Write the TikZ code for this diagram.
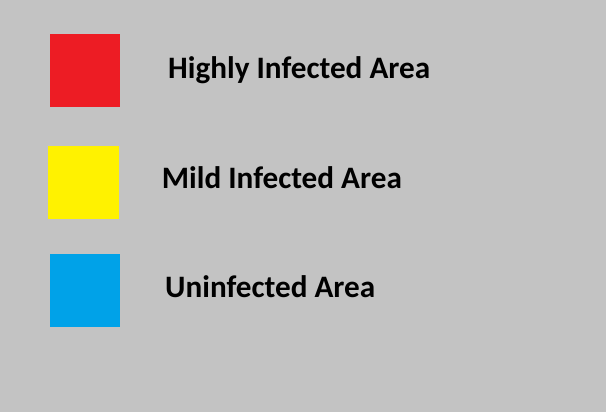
\documentclass[tikz,border=0pt]{standalone}
\usepackage{fontspec}
\setmainfont{Carlito}
\definecolor{bggray}{HTML}{C3C3C3}
\definecolor{hired}{HTML}{ED1C24}
\definecolor{mildyellow}{HTML}{FFF200}
\definecolor{unblue}{HTML}{00A2E8}
\begin{document}
\begin{tikzpicture}[x=1pt,y=-1pt,
  lbl/.style={anchor=base west,inner sep=0pt,font=\fontsize{31.2}{36}\selectfont\bfseries,text=black}]
\fill[bggray] (0,0) rectangle (606,412);
\useasboundingbox (0,0) rectangle (606,412);
\fill[hired] (50,34.5) rectangle (120,107);
\fill[mildyellow] (48,146) rectangle (119,219);
\fill[unblue] (50,254) rectangle (120,326.5);
\node[lbl] (t1) at (168,78.3) {Highly Infected Area};
\node[lbl] (t2) at (161.7,189) {Mild Infected Area};
\node[lbl] (t3) at (165,297.3) {Uninfected Area};
\end{tikzpicture}
\end{document}
